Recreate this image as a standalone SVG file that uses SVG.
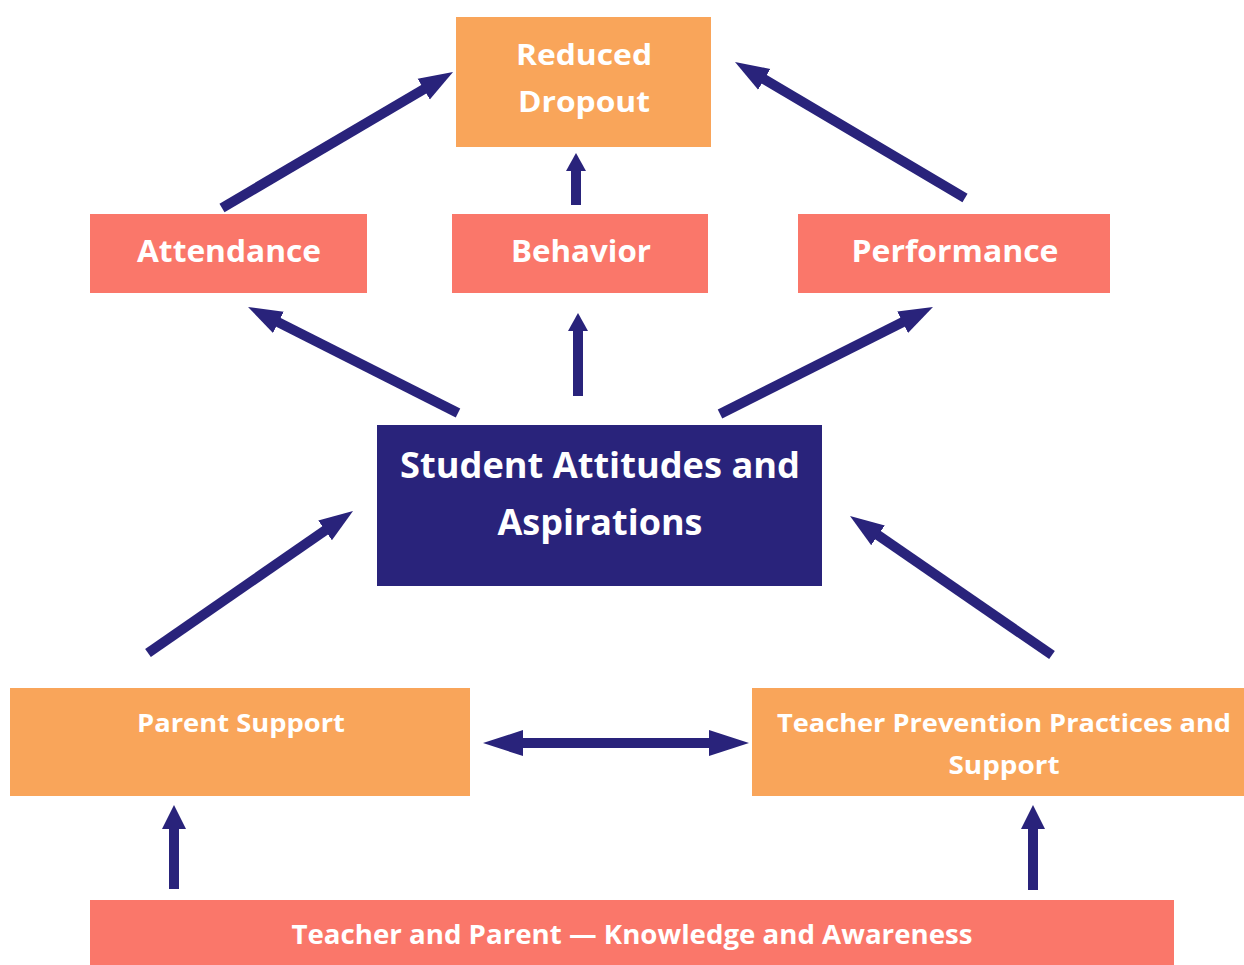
<svg xmlns="http://www.w3.org/2000/svg" width="1244" height="965" viewBox="0 0 1244 965">
<style>
.orange{fill:#F9A55A}
.salmon{fill:#FA776A}
.navy{fill:#29237B}
text{font-family:"Open Sans","Liberation Sans",sans-serif;font-weight:bold;fill:#ffffff;text-anchor:middle}
.arr{stroke:#29237B;stroke-width:10;fill:none}
</style>
<defs>
<marker id="h" markerUnits="userSpaceOnUse" markerWidth="40" markerHeight="30" viewBox="0 -15 40 30" refX="1" refY="0" orient="auto"><path d="M0,-12 L34,0 L0,12 z" fill="#29237B"/></marker>
<marker id="v" markerUnits="userSpaceOnUse" markerWidth="24" markerHeight="24" viewBox="0 -12 24 24" refX="1" refY="0" orient="auto"><path d="M0,-10 L18,0 L0,10 z" fill="#29237B"/></marker>
<marker id="b" markerUnits="userSpaceOnUse" markerWidth="30" markerHeight="30" viewBox="0 -15 30 30" refX="1" refY="0" orient="auto"><path d="M0,-12 L24,0 L0,12 z" fill="#29237B"/></marker>
<marker id="d" markerUnits="userSpaceOnUse" markerWidth="44" markerHeight="30" viewBox="0 -15 44 30" refX="1" refY="0" orient="auto-start-reverse"><path d="M0,-13 L40,0 L0,13 z" fill="#29237B"/></marker>
</defs>
<g id="reduced-dropout"><rect class="orange" x="456" y="17" width="255" height="130"/><text x="584" y="65" font-size="29" textLength="136" lengthAdjust="spacingAndGlyphs">Reduced</text><text x="584" y="112" font-size="29" textLength="132" lengthAdjust="spacingAndGlyphs">Dropout</text></g>
<g id="attendance"><rect class="salmon" x="90" y="214" width="277" height="79"/><text x="229" y="262" font-size="31" textLength="184" lengthAdjust="spacingAndGlyphs">Attendance</text></g>
<g id="behavior"><rect class="salmon" x="452" y="214" width="256" height="79"/><text x="581" y="262" font-size="31" textLength="140" lengthAdjust="spacingAndGlyphs">Behavior</text></g>
<g id="performance"><rect class="salmon" x="798" y="214" width="312" height="79"/><text x="955" y="262" font-size="31" textLength="207" lengthAdjust="spacingAndGlyphs">Performance</text></g>
<g id="student"><rect class="navy" x="377" y="425" width="445" height="161"/><text x="600" y="478" font-size="35" textLength="400" lengthAdjust="spacingAndGlyphs">Student Attitudes and</text><text x="600" y="535" font-size="35" textLength="205" lengthAdjust="spacingAndGlyphs">Aspirations</text></g>
<g id="parent-support"><rect class="orange" x="10" y="688" width="460" height="108"/><text x="241" y="732" font-size="25" textLength="208" lengthAdjust="spacingAndGlyphs">Parent Support</text></g>
<g id="teacher-practices"><rect class="orange" x="752" y="688" width="492" height="108"/><text x="1004" y="732" font-size="25" textLength="454" lengthAdjust="spacingAndGlyphs">Teacher Prevention Practices and</text><text x="1004" y="774" font-size="25" textLength="111" lengthAdjust="spacingAndGlyphs">Support</text></g>
<g id="knowledge"><rect class="salmon" x="90" y="900" width="1084" height="65"/><text x="632" y="944" font-size="27" textLength="681" lengthAdjust="spacingAndGlyphs">Teacher and Parent — Knowledge and Awareness</text></g>
<g id="connectors">
<line class="arr" x1="222" y1="208" x2="424.6" y2="88.7" marker-end="url(#h)"/>
<line class="arr" x1="576" y1="205" x2="576" y2="170" marker-end="url(#v)"/>
<line class="arr" x1="965" y1="198" x2="763.4" y2="78.8" marker-end="url(#h)"/>
<line class="arr" x1="458" y1="413" x2="277.5" y2="321.9" marker-end="url(#h)"/>
<line class="arr" x1="578" y1="396" x2="578" y2="330" marker-end="url(#v)"/>
<line class="arr" x1="720" y1="414" x2="903.5" y2="321.8" marker-end="url(#h)"/>
<line class="arr" x1="148" y1="653" x2="325.9" y2="529.8" marker-end="url(#h)"/>
<line class="arr" x1="1052" y1="655" x2="877.2" y2="534.7" marker-end="url(#h)"/>
<line class="arr" x1="522" y1="743" x2="710" y2="743" stroke-width="13" marker-start="url(#d)" marker-end="url(#d)"/>
<line class="arr" x1="174" y1="889" x2="174" y2="828" marker-end="url(#b)"/>
<line class="arr" x1="1033" y1="890" x2="1033" y2="828" marker-end="url(#b)"/>
</g>
</svg>
